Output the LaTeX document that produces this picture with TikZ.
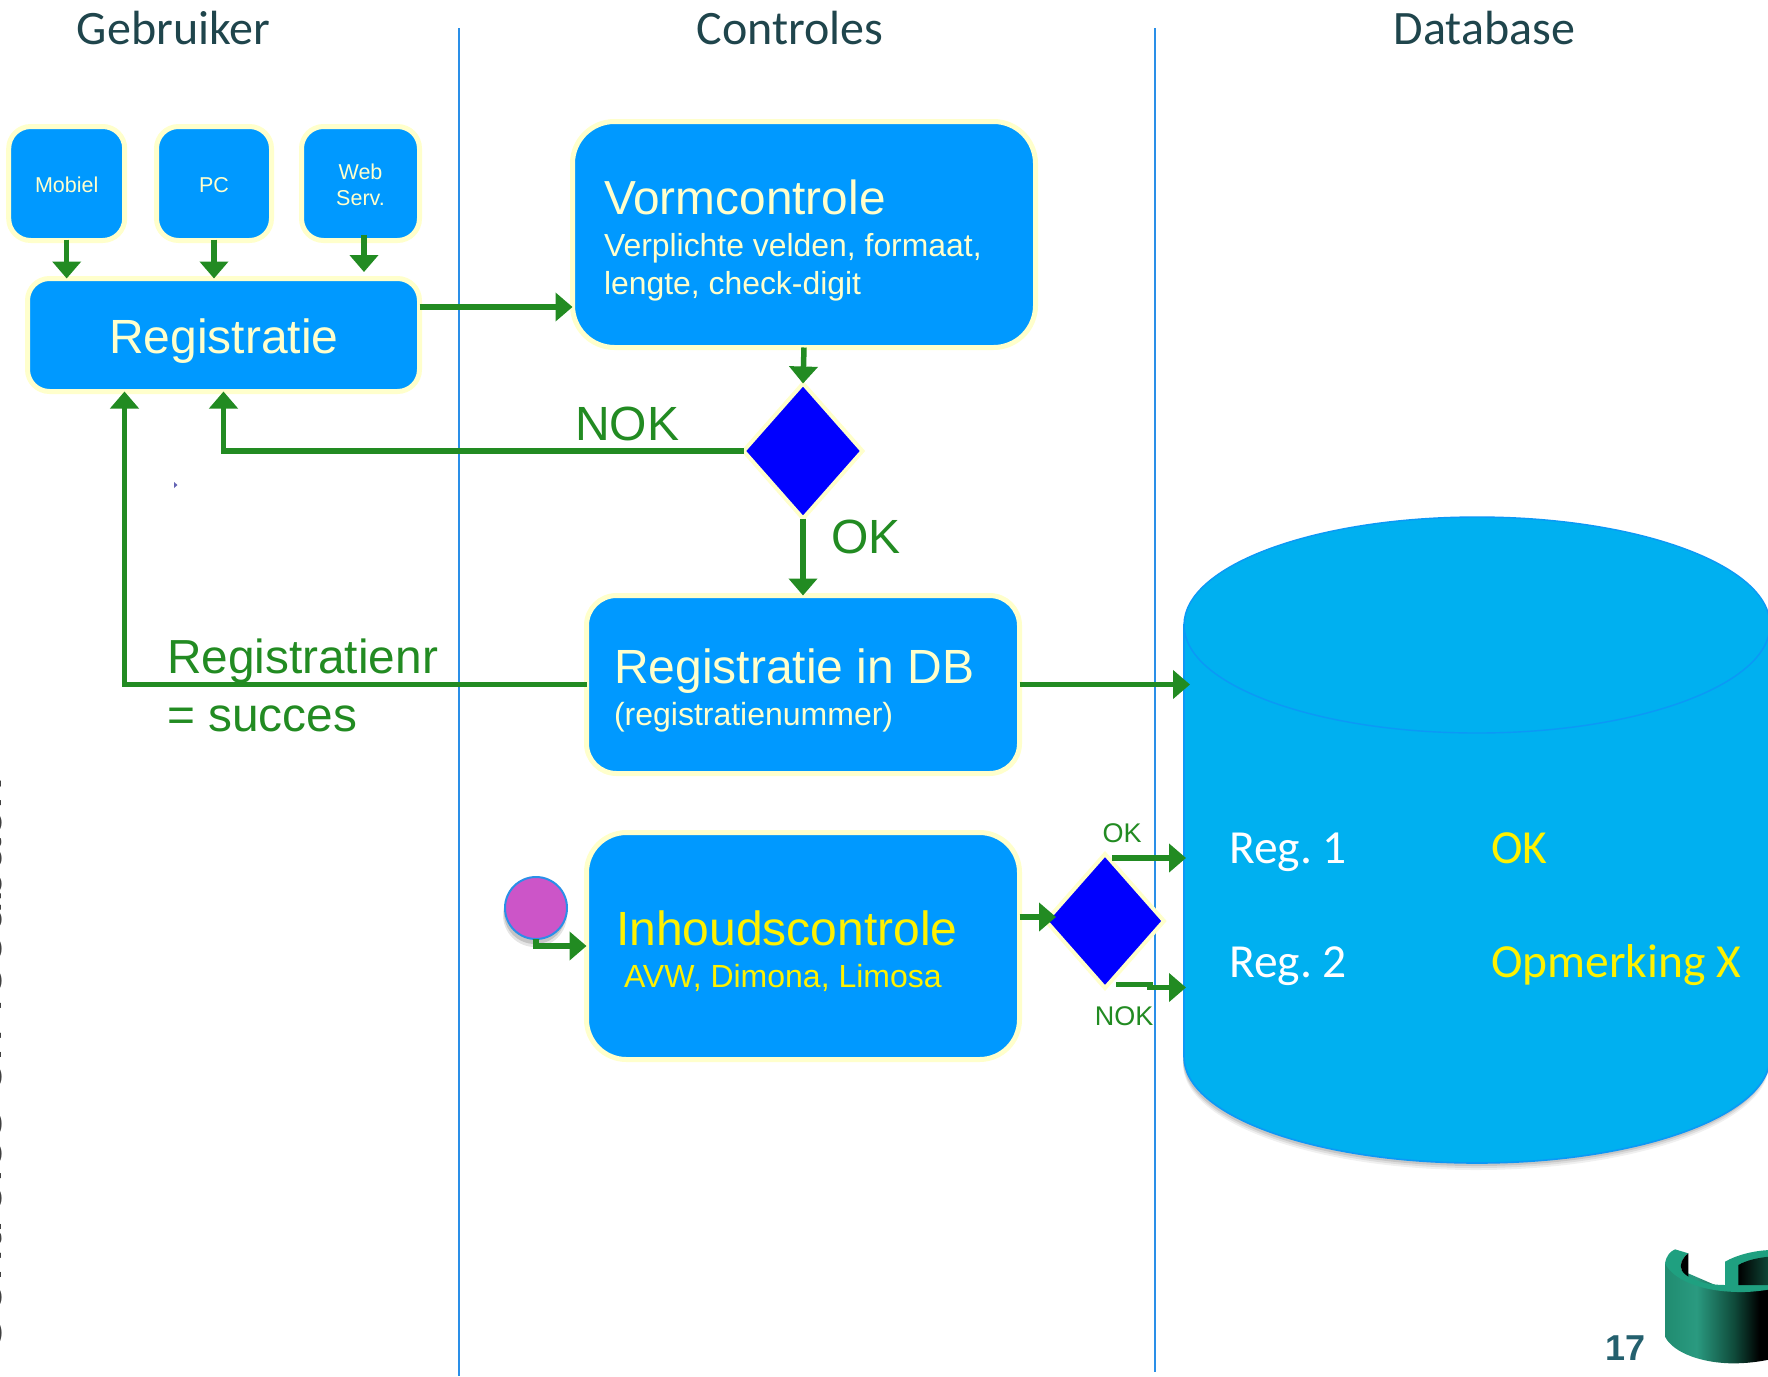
\documentclass[tikz,border=0pt]{standalone}
\usepackage{fontspec}
\setmainfont{Liberation Sans}
\newfontfamily\carl{Carlito}
\usetikzlibrary{arrows.meta,shapes.geometric,calc}
\definecolor{boxb}{HTML}{0099FF}
\definecolor{pale}{HTML}{FFFFCC}
\definecolor{grn}{HTML}{228B22}
\definecolor{dbb}{HTML}{00B0F0}
\definecolor{dbl}{HTML}{0C98F6}
\definecolor{vln}{HTML}{2A8FE8}
\definecolor{hdr}{HTML}{1F454C}
\definecolor{lg1}{HTML}{208C70}
\definecolor{lg2}{HTML}{2A9A80}
\definecolor{lg3}{HTML}{0F4A3A}
\definecolor{lgf}{HTML}{1FA080}
\definecolor{numc}{HTML}{24606E}
\definecolor{purp}{HTML}{CC55C8}
\definecolor{mrk}{HTML}{6464B4}
\pgfdeclarehorizontalshading{logob}{100bp}{color(0bp)=(lg1); color(25bp)=(lg1); color(40bp)=(lg2); color(58bp)=(lg3); color(70bp)=(black); color(100bp)=(black)}
\newcommand{\szf}[1]{\fontsize{#1}{#1}\selectfont}
\newcommand{\dbbody}{(1184,625) -- (1184,1057) .. controls (1184,1115.5) and (1315.2,1163) .. (1477,1163) .. controls (1638.8,1163) and (1770,1115.5) .. (1770,1057) -- (1770,625) -- cycle}
\tikzset{
  rbox/.style={draw=pale,fill=boxb,line width=5pt,rounded corners=#1,inner sep=0pt,outer sep=0pt},
  rbox/.default=22pt,
  dia/.style={diamond,shape aspect=1,draw=pale,fill=blue,line width=4pt,inner sep=0pt,outer sep=0pt},
  txt/.style={inner sep=0pt,outer sep=0pt,anchor=base west},
  ctxt/.style={inner sep=0pt,outer sep=0pt,anchor=base},
  arr/.style={draw=grn,line width=5.5pt,-{Triangle[length=17pt,width=28pt]}},
  vline/.style={draw=vln,line width=1.8pt},
}
\begin{document}
\begin{tikzpicture}[x=1pt,y=-1pt]
\useasboundingbox (0,0) rectangle (1768,1376);
\clip (0,0) rectangle (1768,1376);
\fill[white] (0,0) rectangle (1768,1376);
% swimlane lines
\coordinate (v1t) at (459,28); \coordinate (v1b) at (459,1376);
\coordinate (v2t) at (1155,28); \coordinate (v2b) at (1155,1372);
\draw[vline] (v1t) -- (v1b);
\draw[vline] (v2t) -- (v2b);
% headers
\node[ctxt,text=hdr] (hgeb) at (173.5,44) {\carl\szf{48}Gebruiker};
\node[ctxt,text=hdr] (hcon) at (790,44) {\carl\szf{48}Controles};
\node[ctxt,text=hdr] (hdat) at (1484.5,44) {\carl\szf{48}Database};
% clipped side title
\node[txt,rotate=90,text=black!75] (side) at (1.8,1355) {\szf{57.4}Controles en feedback};
% database cylinder
\fill[black,opacity=.06,shift={(-1,7)}] \dbbody;
\fill[black,opacity=.08,shift={(-1,5)}] \dbbody;
\fill[black,opacity=.10,shift={(-1,3)}] \dbbody;
\path[fill=dbb,draw=dbl,line width=1.6pt] \dbbody;
\draw[fill=dbb,draw=dbl,line width=1.4pt] (1477,625) ellipse [x radius=293,y radius=108];
\coordinate (dbedge) at (1186,700);
\coordinate (dbarr) at (1190,700);
\coordinate (d2in) at (1056,700);
% top row
\node[rbox,minimum width=116pt,minimum height=114pt] (mob) at (66.7,183.5) {};
\node[rbox,minimum width=115pt,minimum height=114pt] (pc) at (214,183.5) {};
\node[rbox,minimum width=118pt,minimum height=114pt] (web) at (360.5,183.5) {};
\node[rbox,minimum width=392pt,minimum height=113pt] (reg) at (223.5,335) {};
\node[ctxt,text=pale] (tmob) at (66.7,192) {\szf{21.5}Mobiel};
\node[ctxt,text=pale] (tpc) at (214,192) {\szf{21.5}PC};
\node[ctxt,text=pale] (tweb) at (360.5,179) {\szf{21.5}Web};
\node[ctxt,text=pale] (tserv) at (360.5,205) {\szf{21.5}Serv.};
\node[ctxt,text=pale] (treg) at (224,353) {\szf{48}Registratie};
% control boxes
\node[rbox=42pt,minimum width=463pt,minimum height=226pt] (vorm) at (804,234.5) {};
\node[txt,text=pale] (tvorm) at (604,214) {\szf{47.8}Vormcontrole};
\node[txt,text=pale] (tv1) at (604,256) {\szf{31.9}Verplichte velden, formaat,};
\node[txt,text=pale] (tv2) at (604,294) {\szf{31.9}lengte, check-digit};
\node[dia,minimum width=119pt,minimum height=135pt] (d1) at (803,451) {};
\node[rbox=30pt,minimum width=433pt,minimum height=178pt] (rdb) at (803,684.5) {};
\node[txt,text=pale] (trdb) at (614,683) {\szf{48}Registratie in DB};
\node[txt,text=pale] (trdb2) at (614,725) {\szf{32}(registratienummer)};
\node[rbox=40pt,minimum width=433pt,minimum height=227pt] (inh) at (803,946) {};
\node[txt,text=yellow] (tinh) at (616,945) {\szf{48}Inhoudscontrole};
\node[txt,text=yellow] (tinh2) at (624,987) {\szf{32}AVW, Dimona, Limosa};
\node[dia,minimum width=118pt,minimum height=134pt] (d2) at (1105,921) {};
% purple circle
\fill[black,opacity=.10] (535,915) circle (32);
\fill[black,opacity=.14] (535,913) circle (31);
\node[circle,inner sep=0pt,outer sep=0pt,minimum size=62pt,draw=vln,line width=2pt,fill=purp] (circ) at (536,908) {};
% stray mark
\fill[mrk] (174,482) -- (177.5,485) -- (174,488) -- cycle;
% connectors
\draw[arr] ([yshift=1pt]mob.south) -- (reg.north -| mob.south);
\draw[arr] ([yshift=1pt]pc.south) -- (reg.north -| pc.south);
\draw[arr] ([xshift=3.5pt,yshift=6pt]web.south) -- ([xshift=3.5pt,yshift=-31.5pt]web.south);
\draw[arr] ([yshift=28pt]reg.east) -- ([yshift=28pt]reg.east -| vorm.west);
\draw[arr] (vorm.south) -- (d1.north);
\draw[arr] (d1.west) -| (reg.south);
\draw[arr] (d1.south) -- (rdb.north);
\draw[arr] (rdb.west) -| ([xshift=-99pt]reg.south);
\draw[arr] (rdb.east) -- (rdb.east -| dbarr);
\draw[arr] (circ.south) |- (inh.west);
\draw[arr] ([yshift=29pt]inh.east) -- ([yshift=29pt]inh.east -| d2in);
\draw[arr] ([xshift=7pt,yshift=-4pt]d2.north) -- ([yshift=-4pt]d2.north -| dbedge);
\draw[arr] ([xshift=11pt,yshift=3.5pt]d2.south) -- ++(34,0) -- ++(0,3) -- ([yshift=0.5pt]d2.south -| dbedge);
% labels
\node[txt,text=grn] (lnok) at (575,440) {\szf{48}NOK};
\node[txt,text=grn] (lok) at (831,553) {\szf{48}OK};
\node[txt,text=grn] (lreg) at (167,673) {\szf{47.8}Registratienr};
\node[txt,text=grn] (lsuc) at (167,731) {\szf{47.8}= succes};
\node[ctxt,text=grn] (lok2) at (1122,842) {\szf{27}OK};
\node[ctxt,text=grn] (lnok2) at (1124,1025) {\szf{27}NOK};
% database texts
\node[txt,text=white] (r1) at (1229,863) {\carl\szf{47.5}Reg.\hspace{-3.5pt} 1};
\node[txt,text=yellow] (o1) at (1491,863) {\carl\szf{47.5}OK};
\node[txt,text=white] (r2) at (1229,977) {\carl\szf{47.5}Reg.\hspace{-3.5pt} 2};
\node[txt,text=yellow] (o2) at (1491,977) {\carl\szf{47.5}Opmerking X};
% page number and logo
\node[ctxt,text=numc] (num) at (1625,1360) {\bfseries\szf{36}17};
\begin{scope}[shift={(1560,1200)},scale=1/3]
\shade[shading=logob] (315,190) -- (315,410) .. controls (340,460) and (430,490) .. (520,490) .. controls (560,490) and (600,485) .. (630,478) -- (630,250) -- (500,270) -- cycle;
\fill[lgf] (315,190) .. controls (320,165) and (330,155) .. (345,148) -- (385,160) .. controls (365,175) and (358,195) .. (365,210) .. controls (385,240) and (440,255) .. (495,255) -- (495,185) .. controls (530,165) and (580,152) .. (630,150) -- (630,268) .. controls (590,275) and (550,278) .. (510,275) .. controls (420,270) and (340,240) .. (315,190) -- cycle;
\fill[black] (385,160) .. controls (365,175) and (358,195) .. (365,210) .. controls (370,220) and (378,225) .. (385,230) -- cycle;
\shade[left color=black,right color=lg3] (535,195) .. controls (560,180) and (600,172) .. (630,170) -- (630,255) -- (535,255) -- cycle;
\end{scope}
\end{tikzpicture}
\end{document}
